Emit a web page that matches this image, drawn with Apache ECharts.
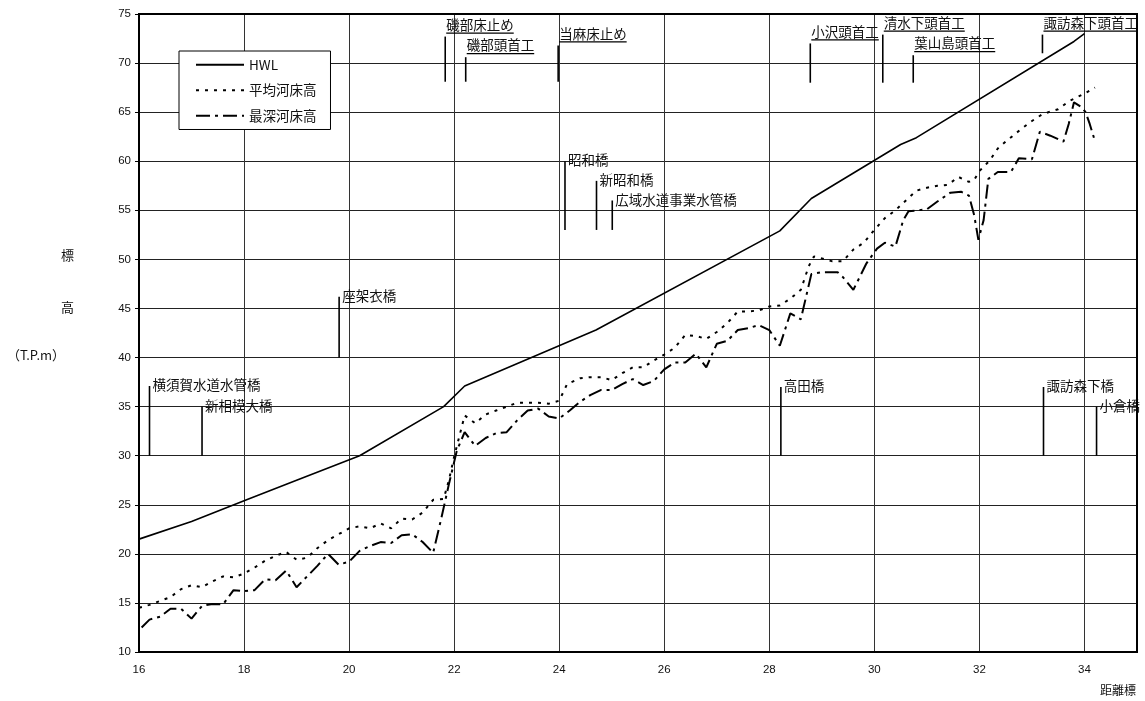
<!DOCTYPE html>
<html>
<head>
<meta charset="utf-8">
<script src="https://cdn.jsdelivr.net/npm/echarts@6/dist/echarts.min.js"></script>
<style>
html,body{margin:0;padding:0;background:#fff;}
#chart{width:1145px;height:701px;}
</style>
</head>
<body>
<div id="chart"></div>
<script>
// ---- data ----
const seriesNames = ['HWL', '平均河床高', '最深河床高'];

const hwlX = [16, 17, 18, 19, 20.2, 21.8, 22.2, 24.7, 28.2, 28.8, 30.5, 30.8, 33.8, 34.0];
const hwlY = [21.5, 23.3, 25.4, 27.5, 30.0, 35.0, 37.1, 42.8, 52.9, 56.2, 61.7, 62.4, 72.2, 73.0];

const meanX = [16.0, 16.2, 16.4, 16.6, 16.8, 17.0, 17.2, 17.4, 17.6, 17.8, 18.0, 18.2, 18.4, 18.6, 18.8, 19.0, 19.2, 19.4, 19.6, 19.8,
  20.0, 20.2, 20.4, 20.6, 20.8, 21.0, 21.2, 21.4, 21.6, 21.8, 21.9, 22.0, 22.1, 22.2, 22.4, 22.6, 22.8, 23.0, 23.2, 23.4,
  23.6, 23.8, 24.0, 24.15, 24.4, 24.6, 24.8, 25.0, 25.2, 25.4, 25.6, 25.8, 26.0, 26.2, 26.4, 26.6, 26.8, 27.0, 27.2, 27.4,
  27.6, 27.8, 28.0, 28.2, 28.4, 28.6, 28.75, 28.85, 29.0, 29.2, 29.4, 29.6, 29.8, 30.0, 30.2, 30.4, 30.6, 30.8, 31.0, 31.2,
  31.4, 31.6, 31.8, 31.9, 32.0, 32.2, 32.35, 32.5, 32.8, 33.0, 33.2, 33.5, 33.7, 33.85, 34.0, 34.2];
const meanY = [14.5, 14.8, 15.2, 15.6, 16.4, 16.8, 16.6, 17.2, 17.7, 17.6, 18.0, 18.6, 19.3, 19.8, 20.2, 19.4, 19.6, 20.6, 21.4, 22.0,
  22.6, 22.8, 22.6, 23.1, 22.6, 23.6, 23.5, 24.2, 25.5, 25.6, 27.5, 29.9, 32.0, 34.1, 33.3, 34.2, 34.6, 35.0, 35.4, 35.4,
  35.4, 35.3, 35.6, 37.3, 37.9, 38.0, 38.0, 37.7, 38.4, 39.0, 39.0, 39.7, 40.3, 41.0, 42.3, 42.2, 41.9, 42.6, 43.5, 44.7,
  44.7, 44.8, 45.2, 45.3, 46.0, 46.9, 49.3, 50.3, 50.1, 49.8, 49.8, 51.0, 51.7, 53.0, 54.2, 55.0, 56.0, 57.0, 57.3, 57.5,
  57.6, 58.4, 57.9, 58.1, 59.0, 60.1, 61.3, 62.0, 63.3, 64.1, 64.8, 65.3, 66.1, 66.5, 66.9, 67.5];

const deepX = [16.05, 16.2, 16.4, 16.6, 16.8, 17.0, 17.2, 17.4, 17.6, 17.8, 18.0, 18.2, 18.4, 18.6, 18.8, 19.0, 19.2, 19.4, 19.6, 19.8,
  20.0, 20.2, 20.4, 20.6, 20.8, 21.0, 21.2, 21.4, 21.6, 21.75, 21.9, 22.05, 22.2, 22.4, 22.6, 22.8, 23.0, 23.2, 23.4, 23.6,
  23.8, 24.0, 24.2, 24.4, 24.6, 24.8, 25.0, 25.2, 25.4, 25.6, 25.8, 26.0, 26.2, 26.4, 26.6, 26.8, 27.0, 27.2, 27.4, 27.6,
  27.8, 28.0, 28.2, 28.4, 28.6, 28.7, 28.8, 29.0, 29.3, 29.4, 29.6, 29.85, 30.05, 30.2, 30.4, 30.55, 30.65, 31.0, 31.2, 31.45,
  31.65, 31.8, 31.9, 31.98, 32.08, 32.17, 32.35, 32.6, 32.75, 33.0, 33.15, 33.35, 33.6, 33.7, 33.8, 33.95, 34.02, 34.1, 34.18];
const deepY = [12.5, 13.3, 13.6, 14.4, 14.4, 13.4, 14.7, 14.9, 14.85, 16.3, 16.2, 16.3, 17.4, 17.3, 18.3, 16.6, 17.7, 18.8, 20.0, 18.9,
  19.2, 20.3, 20.8, 21.2, 21.1, 21.9, 22.0, 21.2, 20.1, 23.5, 27.1, 30.5, 32.4, 31.0, 31.8, 32.3, 32.4, 33.6, 34.6, 34.8,
  34.0, 33.8, 34.6, 35.5, 36.2, 36.7, 36.7, 37.3, 37.8, 37.2, 37.6, 38.8, 39.5, 39.5, 40.4, 39.0, 41.4, 41.7, 42.8, 43.0,
  43.3, 42.8, 41.2, 44.5, 43.9, 46.2, 48.5, 48.7, 48.7, 48.2, 46.9, 49.6, 51.1, 51.7, 51.3, 54.0, 54.9, 55.1, 55.9, 56.8,
  56.9, 56.5, 54.5, 52.0, 54.0, 58.2, 58.9, 58.9, 60.3, 60.2, 63.0, 62.6, 62.0, 63.8, 66.0, 65.5, 65.0, 63.8, 62.4];

// structures (bridges / weirs): name, distance, bottom and top elevation of the marker line
const markNames = ['横須賀水道水管橋', '新相模大橋', '座架衣橋', '昭和橋', '新昭和橋', '広域水道事業水管橋', '高田橋', '諏訪森下橋', '小倉橋',
  '磯部床止め', '磯部頭首工', '当麻床止め', '小沢頭首工', '清水下頭首工', '葉山島頭首工', '諏訪森下頭首工'];
const markX = [16.2, 17.2, 19.81, 24.11, 24.71, 25.01, 28.22, 33.22, 34.23,
  21.83, 22.22, 23.98, 28.78, 30.16, 30.74, 33.2];
const markBase = [30, 30, 40, 53, 53, 53, 30, 30, 30,
  68.1, 68.1, 68.1, 68.0, 68.0, 68.0, 71.0];
const markTop = [37.1, 35.0, 46.2, 60.0, 58.0, 56.0, 37.0, 37.0, 35.0,
  72.7, 70.6, 71.8, 72.0, 72.9, 70.8, 72.9];
const markUnderline = [0, 0, 0, 0, 0, 0, 0, 0, 0, 1, 1, 1, 1, 1, 1, 1];

const xTicks = {min: 16, max: 35, interval: 2};
const yTicks = {min: 10, max: 75, interval: 5};

// ---- chart ----
const zip = (xs, ys) => xs.map((x, i) => [x, ys[i]]);
const chart = echarts.init(document.getElementById('chart'), null, {renderer: 'canvas'});
const CJK = '"Noto Sans CJK JP", "Noto Sans", sans-serif';
const FS = 13.5;

const markData = markNames.map((n, i) => [markX[i], markBase[i], markTop[i], i]);

chart.setOption({
  animation: false,
  backgroundColor: '#fff',
  grid: {left: 139, right: 8, top: 14, bottom: 49, show: true, borderColor: '#000', borderWidth: 2, backgroundColor: 'transparent', z: 10},
  legend: {
    data: seriesNames,
    orient: 'vertical',
    left: 179, top: 51,
    backgroundColor: '#fff', borderColor: '#000', borderWidth: 1,
    padding: [7, 14, 7, 16],
    itemWidth: 48, itemHeight: 14, itemGap: 12,
    itemStyle: {opacity: 0, borderWidth: 0},
    textStyle: {fontSize: FS, color: '#111', fontFamily: CJK}
  },
  xAxis: {
    type: 'value', min: xTicks.min, max: xTicks.max, interval: xTicks.interval,
    axisLine: {show: false}, axisTick: {show: false},
    axisLabel: {showMaxLabel: false, margin: 12, fontSize: 11.5, color: '#111', fontFamily: '"Liberation Sans Narrow", "Liberation Sans", sans-serif'},
    splitLine: {show: true, lineStyle: {color: '#333', width: 1}}
  },
  yAxis: {
    type: 'value', min: yTicks.min, max: yTicks.max, interval: yTicks.interval,
    axisLine: {show: false},
    axisTick: {show: true, length: 4, lineStyle: {color: '#000'}},
    axisLabel: {margin: 8, fontSize: 11.5, color: '#111', fontFamily: '"Liberation Sans", Arial, sans-serif'},
    splitLine: {show: true, lineStyle: {color: '#222', width: 1}}
  },
  graphic: [
    {type: 'text', left: 61, top: 249, style: {text: '標', fontSize: 13, fill: '#111', fontFamily: CJK}},
    {type: 'text', left: 61, top: 301, style: {text: '高', fontSize: 13, fill: '#111', fontFamily: CJK}},
    {type: 'text', left: 7, top: 349, style: {text: '（T.P.m）', fontSize: 13, fill: '#111', fontFamily: CJK}},
    {type: 'text', right: 9, top: 684, style: {text: '距離標', fontSize: 12, fill: '#111', fontFamily: CJK}}
  ],
  series: [
    {
      name: seriesNames[0], type: 'line', data: zip(hwlX, hwlY), symbol: 'none', z: 5,
      lineStyle: {color: '#000', width: 1.6, type: 'solid'}, itemStyle: {color: '#000'}
    },
    {
      name: seriesNames[1], type: 'line', data: zip(meanX, meanY), symbol: 'none', z: 5,
      lineStyle: {color: '#000', width: 2, type: [3, 6]}, itemStyle: {color: '#000'}
    },
    {
      name: seriesNames[2], type: 'line', data: zip(deepX, deepY), symbol: 'none', z: 5,
      lineStyle: {color: '#000', width: 2, type: [14, 5, 3, 5]}, itemStyle: {color: '#000'}
    },
    {
      name: 'structures', type: 'custom', data: markData, clip: false, z: 6,
      encode: {x: 0, y: [1, 2]},
      renderItem: function (params, api) {
        const x = api.value(0), b = api.value(1), t = api.value(2), idx = api.value(3);
        const p0 = api.coord([x, b]);
        const p1 = api.coord([x, t]);
        const name = markNames[idx];
        const children = [{
          type: 'line', shape: {x1: p0[0], y1: p0[1], x2: p1[0], y2: p1[1]},
          style: {stroke: '#000', lineWidth: 1.6}
        }];
        if (markUnderline[idx]) {
          const w = name.length * FS;
          children.push({type: 'text', style: {text: name, x: p1[0] + 1, y: p1[1] - 12, verticalAlign: 'middle', align: 'left', fontSize: FS, fontFamily: CJK, fill: '#111'}});
          children.push({type: 'line', shape: {x1: p1[0] + 1, y1: p1[1] - 3.5, x2: p1[0] + 1 + w, y2: p1[1] - 3.5}, style: {stroke: '#000', lineWidth: 1.3}});
        } else {
          children.push({type: 'text', style: {text: name, x: p1[0] + 3, y: p1[1] - 1, verticalAlign: 'middle', align: 'left', fontSize: FS, fontFamily: CJK, fill: '#111'}});
        }
        return {type: 'group', children: children};
      }
    }
  ]
});
</script>
</body>
</html>
